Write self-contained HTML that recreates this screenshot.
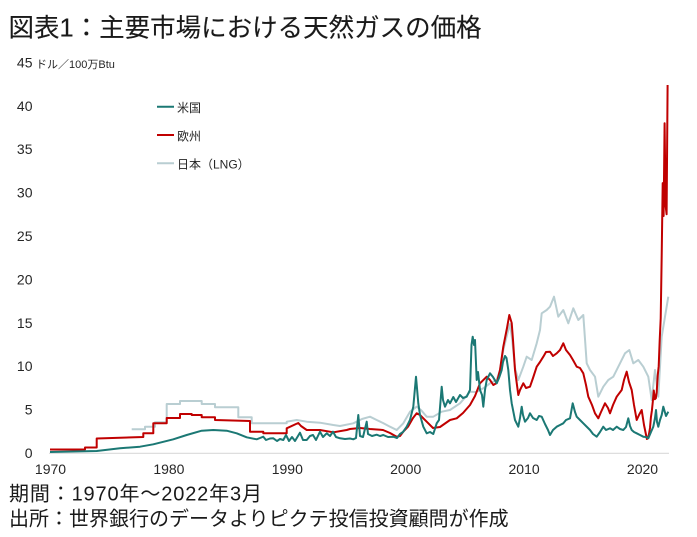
<!DOCTYPE html>
<html>
<head>
<meta charset="utf-8">
<style>
html,body{margin:0;padding:0;background:#fff;}
svg{display:block;}
text{font-family:"Liberation Sans","Noto Sans CJK JP",sans-serif;}
</style>
</head>
<body>
<svg width="697" height="537" viewBox="0 0 697 537" xmlns="http://www.w3.org/2000/svg">
<rect width="697" height="537" fill="#fff"/>

<!-- Title -->
<text x="8.5" y="36.5" font-size="25.5" fill="#1a1a1a" stroke="#1a1a1a" stroke-width="0.12">図表1：主要市場における天然ガスの価格</text>

<!-- Y axis labels -->
<g font-size="14" fill="#262626" text-anchor="end">
<text x="32.5" y="67.5">45</text>
<text x="32.5" y="110.8">40</text>
<text x="32.5" y="154.2">35</text>
<text x="32.5" y="197.6">30</text>
<text x="32.5" y="241">25</text>
<text x="32.5" y="284.4">20</text>
<text x="32.5" y="327.8">15</text>
<text x="32.5" y="371.2">10</text>
<text x="32.5" y="414.6">5</text>
<text x="32.5" y="458">0</text>
</g>
<text x="36" y="68" font-size="11" fill="#262626">ドル／100万Btu</text>

<!-- X axis -->
<line x1="49" y1="453.3" x2="669" y2="453.3" stroke="#d9d9d9" stroke-width="1.2"/>
<g font-size="14" fill="#262626" text-anchor="middle">
<text x="50.5" y="474">1970</text>
<text x="168.9" y="474">1980</text>
<text x="287.3" y="474">1990</text>
<text x="405.7" y="474">2000</text>
<text x="524.1" y="474">2010</text>
<text x="642.5" y="474">2020</text>
</g>

<!-- Legend -->
<line x1="157" y1="106.7" x2="174" y2="106.7" stroke="#1b7874" stroke-width="2"/>
<text x="177" y="112" font-size="12" fill="#262626">米国</text>
<line x1="157" y1="135" x2="174" y2="135" stroke="#c00000" stroke-width="2"/>
<text x="177" y="140.3" font-size="12" fill="#262626">欧州</text>
<line x1="157" y1="163.3" x2="174" y2="163.3" stroke="#b9ced2" stroke-width="2"/>
<text x="177" y="168.6" font-size="12" fill="#262626">日本（LNG）</text>

<!-- Japan LNG -->
<polyline fill="none" stroke="#b9ced2" stroke-width="2" stroke-linejoin="round" points="
131.7,429.3 145,429.3 145,426.7 155,426.7 155,422.3 166.7,422.3 166.7,404 180,404 180,401 201.7,401 201.7,404 215,404 215,407.3 238.3,407.3 238.3,417.3 251.7,417.3 251.7,423.3 286.7,423.3 286.7,421.7 296.7,420 306.7,421.7 320,422.7 333.3,425 340,426 353.3,423.3
362,419 370,416.7 376.7,420 383,423 390,426.7 396.7,430 403.3,423.3 410,411.7 416.7,406.7 421,410 426.7,416.7 433.3,416.7 441.7,411.7 450,410 460,403.3 470,391.7 476,392 483.3,388.3 490,383.3 496.7,380 500,370 503.3,350 507,335 510,324 512,338 515,368 518.3,380 523.3,366.7 526.7,356.7 531.7,360 536.7,343.3 540,330 541.7,313.3 546.7,310 550,306.7 554,296.7 558.3,316.7 563.3,310 568.3,323.3 573.3,308.3 578.3,320 583.3,315 586.7,363.3 590,370 595,376.7 598.3,396.7 603.3,386.7 608.3,380 613.3,376.7 620,363.3 625,353.3 629.3,350 633.3,363.3 638.3,360 643.3,366.7 648.3,376.7 651.7,400 655,370 658.3,396.7 661.7,336.7 665,316.7 668.3,296.7"/>

<!-- Europe -->
<polyline fill="none" stroke="#c00000" stroke-width="2" stroke-linejoin="round" points="
50,449.5 85,449.5 85,447.5 96.7,447.5 96.7,438.5 143.3,437 143.3,433.3 153.3,433.3 153.3,423.3 166.7,423.3 166.7,418 180,418 180,414 191.7,414 191.7,415 201.7,415 201.7,417.3 215,417.3 215,420 250,421 250,431.7 263.3,431.7 263.3,433.3 286.7,433.3 286.7,428.3 296,424 298.3,423 301,426 306.7,430 320,430 333.3,432.3 346.7,430 350,429
360,428 370,429 383,430 390,433 396.7,436.7 400,436 403,432 408,426.7 413,418 416.7,413.3 420,415 426.7,421.7 433,428 440,427 450,420 456.7,418.3 463,413 470,405 475,396 480,383.3 486.7,376.7 490,380 493.3,385 496.7,383 500,370 503.3,346.7 507,328 509.3,315 511.7,323 513,340 515,370 518.3,395 520,390 523.3,383.3 526,388 530,386.7 533,378 536.7,366.7 540,362 543.3,356.7 546,352 550,351.7 553,356 556.7,353.3 560,350 563.3,343.3 566,350 570,355 573,360 576.7,366.7 580,368 583.3,373.3 586,385 588.3,396.7 592,405 595,413.3 598.3,418.3 601,412 605,403.3 608,408 610,413.3 613,405 616.7,396.7 621.7,390 624,380 626.7,371.7 629,382 631.7,390 634,405 636.7,420 639,415 641.7,410 644,425 646.9,439 648,438 649,434 650,428 650.9,417.4 651.9,410.5 652.8,401.8 653.8,390.5 654.8,399.2 655.8,398.3 656.7,392.2 657.7,375.7 658.7,366.2 659.7,340.2 660.7,318.5 661.7,255.1 662.7,183.1 663.6,216 664.6,123.2 665.6,205.6 666.6,214.3 667.6,85"/>

<!-- US -->
<polyline fill="none" stroke="#1b7874" stroke-width="2" stroke-linejoin="round" points="
50,452 96.7,451 120,448.3 140,446.7 153.3,444.3 173.3,439.3 186.7,435 201.7,430.7 213.3,430 226.7,430.7 236.7,433.3 246.7,437.3 256.7,439.3 260,438 263.3,436.7 266,440 270,438.5 273.3,438.3 277,441 280,439 283.3,440 286,435 289,441 292,437 295,441 298,436 300,432.7 303,440 306.7,440 310,436 313,435 316,440 320,431.7 323,437 326.7,433.3 330,436 333,431.7 336,437 340,438.3 345,439 350,438.5 353.3,439.3 356,438 358.3,415 360,436 363,437 366.7,421.7 368,434 372,436 376.7,434.7 380,436 383.3,435 388,437 393.3,436.7 397,438 400,434 403,432 406.7,426.7 410,420 413.3,406.7 416,376.7 418.3,403.3 420,415 423.3,426.7 426.7,433.3 430,432 433.3,434 436.7,423.3 439,420 441.7,386.7 443,400 445,406.7 448,400 450,403.3 453.3,397 456,402 460,395 463,398 466.7,396.7 470,390 471.5,345 472.7,336.7 474,345 475,340 476.7,380 478,372 480,390 482,395 483.3,406.7 485,390 486.7,380 490,373.3 493,377 496.7,383.3 499,378 501.7,370 503,362 505,356 506.5,358 508.3,370 510,390 511.7,403.3 515,420 518.3,426.7 520,418 521.7,406.7 523,415 525,421.7 528,418 530,413.3 533,418 536.7,420 539,416 541.7,416.7 545,424 548,430 550,435 553,430 556.7,426.7 560,425 563.3,423.3 566,420 570,418.3 572.7,403.3 575,412 576.7,416.7 580,420 583.3,423.3 587,427 590,430 593,434 596.7,436.7 600,432 603.3,426.7 606,430 610,428.3 613,430 616.7,426.7 620,429 623.3,430 626,427 628.3,418.3 630,426 631.7,430 634,432 636.7,433.3 640,435 643.3,436.7 646,437 648.3,438.3 651,432 653.3,426.7 655,418 656,410 657,422 658.3,426.7 660,420 661.7,415 663.3,406.7 666,416 668.3,411.7"/>

<!-- Footer -->
<text x="9" y="500.6" font-size="20" fill="#1a1a1a" textLength="253" lengthAdjust="spacing">期間：1970年～2022年3月</text>
<text x="9" y="525.6" font-size="20" fill="#1a1a1a">出所：世界銀行のデータよりピクテ投信投資顧問が作成</text>
</svg>
</body>
</html>
